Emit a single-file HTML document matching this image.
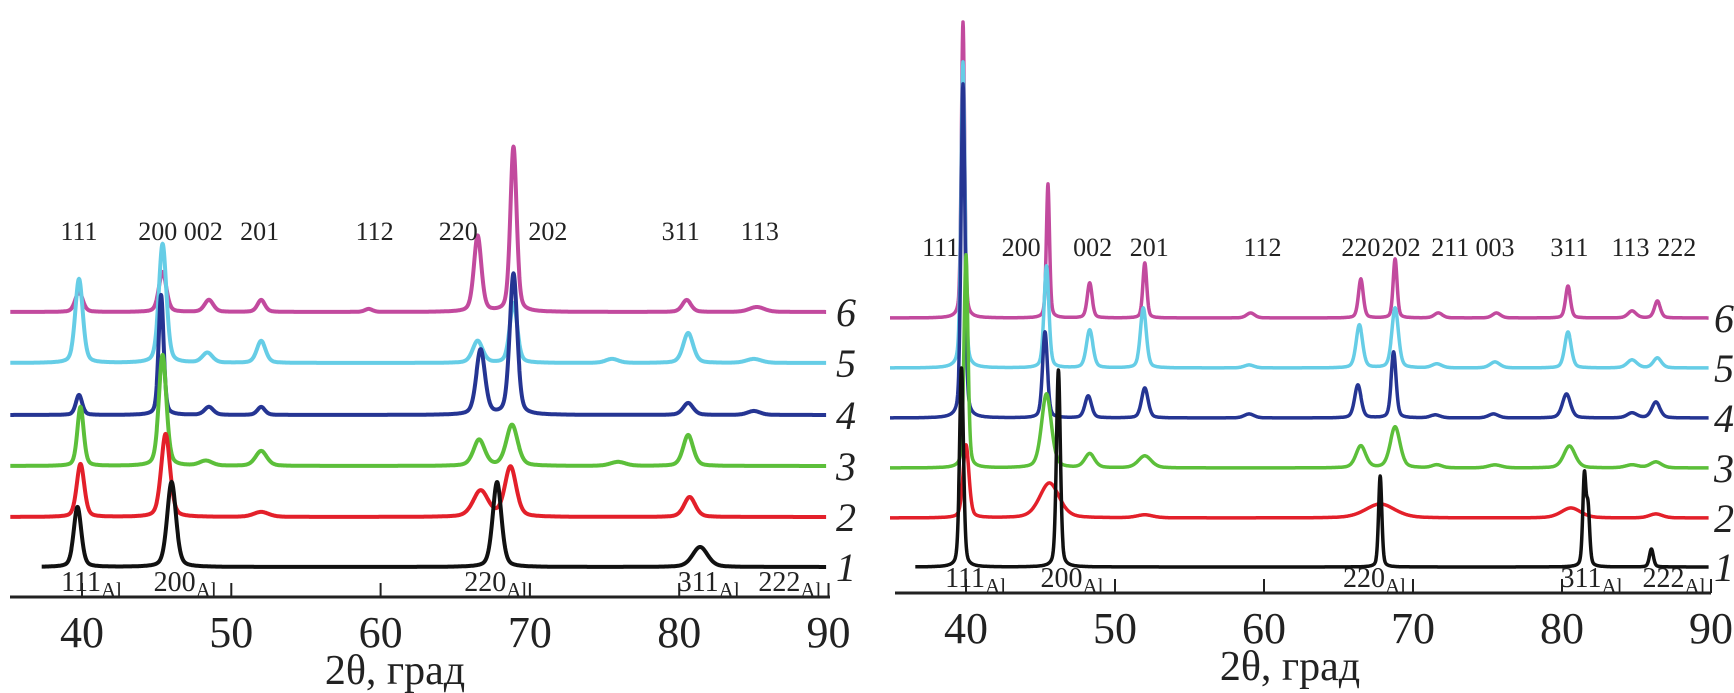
<!DOCTYPE html>
<html><head><meta charset="utf-8"><style>
body{margin:0;background:#fff;}
svg{display:block;}
text{font-family:"Liberation Serif",serif;fill:#222;}
</style></head><body>
<svg id="chart" width="1734" height="693" viewBox="0 0 1734 693" xmlns="http://www.w3.org/2000/svg"></svg>
<script>
// ---- Data ----
const curveLabels = ['1','2','3','4','5','6'];
const curveColors = ['#111111','#e3202a','#5cbf3a','#253593','#66cde6','#c24a9e'];
const tickValues = [40,50,60,70,80,90];
// peaks: [2theta, intensity(px), HWHM(deg)]
const leftPeaks = [
 [[39.7,60,0.3],[46.0,85,0.35],[67.8,85,0.35],[81.4,20,0.6]],
 [[39.9,53,0.3],[45.6,83,0.35],[52.0,5,0.6],[66.7,26,0.6],[68.7,50,0.45],[80.7,20,0.45]],
 [[39.9,59,0.25],[45.4,111,0.3],[48.3,5,0.5],[52.0,15,0.45],[66.6,26,0.45],[68.8,41,0.45],[75.9,4,0.6],[80.6,31,0.4]],
 [[39.8,20,0.25],[45.3,120,0.2],[48.5,8,0.35],[52.0,8,0.3],[66.7,65,0.35],[68.9,141,0.3],[80.6,12,0.4],[85.0,4,0.5]],
 [[39.8,84,0.3],[45.4,119,0.3],[48.4,10,0.4],[52.0,22,0.35],[66.5,22,0.4],[68.9,60,0.3],[75.5,4,0.5],[80.6,30,0.4],[85.0,4,0.6]],
 [[39.8,20,0.3],[45.4,40,0.3],[48.5,12,0.35],[52.0,12,0.3],[59.2,3,0.3],[66.5,76,0.3],[68.9,165,0.25],[80.5,12,0.35],[85.2,5,0.6]]
];
const rightPeaks = [
 [[39.7,199,0.12],[46.2,197,0.12],[67.8,91,0.1],[81.5,89,0.1],[81.75,55,0.1],[86.0,18,0.12]],
 [[40.0,73,0.18],[45.6,35,0.6],[52.0,3,0.5],[67.8,14,0.9],[80.6,10,0.6],[86.3,4,0.4]],
 [[40.0,213,0.12],[45.4,74,0.3],[48.3,14,0.3],[52.0,12,0.4],[66.5,22,0.3],[68.8,41,0.3],[71.6,3,0.3],[75.5,3,0.4],[80.5,22,0.35],[84.7,3,0.4],[86.3,6,0.35]],
 [[39.8,334,0.12],[45.3,86,0.15],[48.2,22,0.2],[52.0,30,0.2],[59.0,4,0.3],[66.3,33,0.2],[68.7,66,0.15],[71.5,3,0.3],[75.4,4,0.3],[80.3,24,0.25],[84.7,5,0.3],[86.3,16,0.25]],
 [[39.8,306,0.12],[45.4,102,0.15],[48.3,38,0.2],[51.9,60,0.18],[59.0,3,0.3],[66.4,43,0.2],[68.8,60,0.2],[71.6,4,0.3],[75.5,6,0.3],[80.4,36,0.2],[84.7,8,0.3],[86.4,10,0.25]],
 [[39.8,296,0.1],[45.5,134,0.1],[48.3,35,0.15],[52.0,55,0.12],[59.1,5,0.25],[66.5,39,0.15],[68.8,59,0.12],[71.7,5,0.25],[75.6,5,0.25],[80.4,32,0.15],[84.7,7,0.25],[86.4,17,0.18]]
];
const leftHkl = ['111','200 002','201','112','220','202','311','113'];
const leftHklPos = [39.8,46.6,51.9,59.6,65.2,71.2,80.1,85.4];
const rightHkl = ['111','200','002','201','112','220','202','211','003','311','113','222'];
const rightHklPos = [38.3,43.7,48.5,52.3,59.9,66.5,69.2,72.5,75.5,80.5,84.6,87.7];
const alLabels = ['111','200','220','311','222'];
const leftAlPos = [38.6,44.8,65.6,79.9,85.3];
const rightAlPos = [38.6,45.0,65.3,79.9,85.4];

// ---- Layout ----
const panels = [
 {name:'left', x0:82, ppd:14.93, axisY:597, lineX0:10, lineX1:830, start:35.2, bases:[567,517,466,415,363,312], blackStart:37.3, numX:836, peaks:leftPeaks, wScale:1, hkl:leftHkl, hklPos:leftHklPos, hklY:240, alPos:leftAlPos, sw:4, titleX:395},
 {name:'right', x0:966, ppd:14.9, axisY:593, lineX0:895, lineX1:1711, start:34.9, bases:[567,518,468,418,368,318], blackStart:36.6, numX:1714, peaks:rightPeaks, wScale:1.3, hkl:rightHkl, hklPos:rightHklPos, hklY:256, alPos:rightAlPos, sw:3.5, titleX:1290}
];
const NS='http://www.w3.org/2000/svg';
const svg=document.getElementById('chart');
function mk(tag,attrs,parent){const e=document.createElementNS(NS,tag);for(const k in attrs)e.setAttribute(k,attrs[k]);(parent||svg).appendChild(e);return e;}
function shape(x,c,h,w){const d=(x-c)/w;return h*(0.65*Math.exp(-0.693*d*d)+0.35/(1+d*d));}

panels.forEach(p=>{
 const g=mk('g',{});
 
 
 const X=v=>p.x0+(v-40)*p.ppd;
 for(let i=5;i>=0;i--){
  const s=i===0?p.blackStart:p.start;
  let d='';
  for(let t=s;t<=89.85;t+=0.02){
   let y=p.bases[i];
   p.peaks[i].forEach(pk=>{y-=shape(t,pk[0],pk[1],pk[2]*p.wScale);});
   d+=(d?'L':'M')+X(t).toFixed(1)+' '+y.toFixed(1);
  }
  const path=mk('path',{d:d,fill:'none',stroke:curveColors[i],'stroke-width':p.sw,'stroke-linejoin':'round'},g);
  
  
  const lab=mk('text',{x:p.numX,y:p.bases[i]+14,'font-size':40,'font-style':'italic'},g);
  lab.textContent=curveLabels[i];
  
  
 }
 p.hkl.forEach((h,k)=>{
  const t=mk('text',{x:X(p.hklPos[k]),y:p.hklY,'font-size':26,'text-anchor':'middle'},g);
  t.textContent=h;
  
  
 });
 const ax=mk('line',{x1:p.lineX0,x2:p.lineX1,y1:p.axisY,y2:p.axisY,stroke:'#222','stroke-width':3},g);
 
 
 tickValues.forEach(v=>{
  const tk=mk('line',{x1:X(v),x2:X(v),y1:p.axisY,y2:p.axisY-14,stroke:'#222','stroke-width':2},g);
  
  
  const tl=mk('text',{x:X(v),y:p.axisY+50,'font-size':44,'text-anchor':'middle'},g);
  tl.textContent=v;
  
  
 });
 alLabels.forEach((a,k)=>{
  const t=mk('text',{x:X(p.alPos[k]),y:p.axisY-6,'font-size':28},g);
  
  
  t.appendChild(document.createTextNode(a));
  const sub=mk('tspan',{'font-size':21,dy:6},t);
  sub.textContent='Al';
 });
 const tt=mk('text',{x:p.titleX,y:p.axisY+87,'font-size':42,'text-anchor':'middle'},g);
 tt.textContent='2θ, град';
 
 
});
</script>
</body></html>
